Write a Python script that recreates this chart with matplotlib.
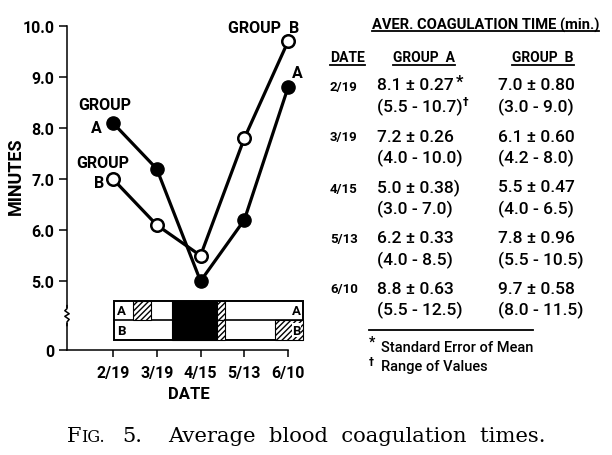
import matplotlib
matplotlib.use('Agg')
import matplotlib.pyplot as plt
from matplotlib.patches import Rectangle

# ---------------- data ----------------
dates = ['2/19', '3/19', '4/15', '5/13', '6/10']
group_a = [8.1, 7.2, 5.0, 6.2, 8.8]
group_b = [7.0, 6.1, 5.5, 7.8, 9.7]
ytick_vals = [5.0, 6.0, 7.0, 8.0, 9.0, 10.0]
ytick_labels = ['5.0', '6.0', '7.0', '8.0', '9.0', '10.0']

se_a = ['0.27', '0.26', '0.38)', '0.33', '0.63']
se_b = ['0.80', '0.60', '0.47', '0.96', '0.58']
range_a = ['5.5 - 10.7', '4.0 - 10.0', '3.0 - 7.0', '4.0 - 8.5', '5.5 - 12.5']
range_b = ['3.0 - 9.0', '4.2 - 8.0', '4.0 - 6.5', '5.5 - 10.5', '8.0 - 11.5']

# treatment schedule bars (row, start, end, kind) in date-position units
schedule_rows = ['A', 'B']
schedule = [('A', 0.46, 0.87, 'hatch'), ('A', 1.35, 2.38, 'solid'), ('A', 2.38, 2.56, 'hatch'),
            ('B', 1.35, 2.38, 'solid'), ('B', 2.38, 2.56, 'hatch'), ('B', 3.70, 4.34, 'hatch')]
schedule_span = (0.02, 4.34)

# ---------------- figure ----------------
W, H = 612, 456
fig = plt.figure(figsize=(W / 100, H / 100), dpi=100)
plt.rcParams['hatch.linewidth'] = 1.0
FONT = 'Roboto'

def fx(px):
    return px / W

def fy(py):
    return 1 - py / H

Y0 = 3.65  # position of broken-axis zero
ax = fig.add_axes([fx(67), fy(351), (310 - 67) / W, (351 - 11.7) / H])
ax.set_xlim(-1.05, 4.5)
ax.set_ylim(Y0, 10.3)
x = list(range(len(dates)))

for s in ['top', 'right']:
    ax.spines[s].set_visible(False)
for s in ['left', 'bottom']:
    ax.spines[s].set_linewidth(1.1)
ax.spines['left'].set_bounds(Y0, 10.0)
ax.spines['bottom'].set_bounds(-1.05, 4)

ax.set_xticks(x)
ax.set_xticklabels(dates, fontfamily=FONT, fontweight='bold', fontsize=11.5)
ax.set_yticks([Y0] + ytick_vals)
ax.set_yticklabels(['0'] + ytick_labels, fontfamily=FONT, fontweight='bold', fontsize=11.5)
ax.tick_params(axis='y', direction='out', length=6, width=1.1, pad=3, color='black')
ax.tick_params(axis='x', direction='out', length=5, width=1.1, pad=6, color='black')

ax.set_xlabel('DATE', fontfamily=FONT, fontweight='bold', fontsize=12, labelpad=4)
fig.text(fx(16), fy(176), 'MINUTES', rotation=90, fontfamily=FONT, fontweight='bold',
         fontsize=13, ha='center', va='center')

# axis break
ax.add_patch(Rectangle((-1.1, 4.17), 0.1, 0.31, transform=ax.transData, facecolor='white',
                       edgecolor='none', clip_on=False, zorder=3))
zx = [-1.05, -1.05, -1.0, -1.1, -1.0, -1.1, -1.05, -1.05]
zy = [4.13, 4.2, 4.25, 4.31, 4.36, 4.42, 4.46, 4.52]
ax.plot(zx, zy, color='black', lw=1.1, clip_on=False, zorder=4)

# lines
ax.plot(x, group_a, '-o', color='black', lw=2.3, ms=9.5, mfc='black', mec='black', zorder=5)
ax.plot(x, group_b, '-o', color='black', lw=2.3, ms=9, mfc='white', mec='black', mew=1.8, zorder=6)

tk = dict(fontfamily=FONT, fontweight='bold', fontsize=11.5, ha='center', va='center')
ax.text(-0.18, 8.47, 'GROUP', **tk)
ax.text(-0.37, 8.02, 'A', **tk)
ax.text(-0.24, 7.33, 'GROUP', **tk)
ax.text(-0.32, 6.94, 'B', **tk)
ax.text(3.43, 9.98, 'GROUP  B', **tk)
ax.text(4.2, 9.08, 'A', **tk)

# schedule inset
row_y = {'A': (4.235, 4.61), 'B': (3.84, 4.235)}
ax.add_patch(Rectangle((schedule_span[0], 3.84), schedule_span[1] - schedule_span[0], 4.61 - 3.84,
                       facecolor='white', edgecolor='black', lw=1.4, zorder=2))
ax.plot(schedule_span, [4.235, 4.235], color='black', lw=1.2, zorder=2)
for row, s0, s1, kind in schedule:
    y0, y1 = row_y[row]
    if kind == 'solid':
        ax.add_patch(Rectangle((s0, y0), s1 - s0, y1 - y0, facecolor='black', edgecolor='black',
                               lw=0.8, zorder=3))
    else:
        ax.add_patch(Rectangle((s0, y0), s1 - s0, y1 - y0, facecolor='white', edgecolor='black',
                               hatch='//////', lw=0.8, zorder=3))
sk = dict(fontfamily=FONT, fontweight='bold', fontsize=9.5, va='center', zorder=4)
for row in schedule_rows:
    ym = sum(row_y[row]) / 2
    ax.text(0.1, ym, row, ha='left', **sk)
    ax.text(4.29, ym, row, ha='right', bbox=dict(facecolor='white', edgecolor='none', pad=0.3), **sk)

# ---------------- table ----------------
fig.canvas.draw()
renderer = fig.canvas.get_renderer()

def underline(t, py, lw=1.3):
    bb = t.get_window_extent(renderer)
    fig.add_artist(plt.Line2D([bb.x0 / W, bb.x1 / W], [fy(py), fy(py)], color='black', lw=lw))

t = fig.text(fx(372), fy(25), 'AVER. COAGULATION TIME (min.)', fontfamily=FONT, fontweight='bold',
             fontsize=10.6, ha='left', va='center')
underline(t, 32)
t = fig.text(fx(330), fy(58), 'DATE', fontfamily=FONT, fontweight='bold', fontsize=10,
             ha='left', va='center')
underline(t, 66)
t = fig.text(fx(424), fy(58), 'GROUP  A', fontfamily=FONT, fontweight='bold', fontsize=10,
             ha='center', va='center')
underline(t, 66)
t = fig.text(fx(543), fy(58), 'GROUP  B', fontfamily=FONT, fontweight='bold', fontsize=10,
             ha='center', va='center')
underline(t, 66)

row1_y = [86, 137, 188, 239, 289]
vk = dict(fontfamily=FONT, fontweight='medium', fontsize=12.5, ha='left', va='center')
for i, d in enumerate(dates):
    y1 = row1_y[i]
    y2 = y1 + 21
    fig.text(fx(330), fy(y1 + 1), d, fontfamily=FONT, fontweight='bold', fontsize=9.5,
             ha='left', va='center')
    ta = fig.text(fx(377), fy(y1), f'{group_a[i]:.1f} ± {se_a[i]}', **vk)
    tb = fig.text(fx(377), fy(y2), f'({range_a[i]})', **vk)
    fig.text(fx(498), fy(y1), f'{group_b[i]:.1f} ± {se_b[i]}', **vk)
    fig.text(fx(498), fy(y2), f'({range_b[i]})', **vk)
    if i == 0:
        bb = ta.get_window_extent(renderer)
        fig.text(bb.x1 / W + 0.004, fy(y1 - 4), '*', fontfamily=FONT, fontweight='bold',
                 fontsize=12, ha='left', va='center')
        bb = tb.get_window_extent(renderer)
        fig.text(bb.x1 / W + 0.001, fy(y2 - 5), '†', fontfamily='DejaVu Sans', fontweight='bold',
                 fontsize=8, ha='left', va='center')

fig.add_artist(plt.Line2D([fx(369), fx(533)], [fy(331), fy(331)], color='black', lw=1.3))
fig.text(fx(369), fy(343), '*', fontfamily=FONT, fontweight='bold', fontsize=10, ha='left', va='center')
fig.text(fx(381), fy(348), 'Standard Error of Mean', fontfamily=FONT, fontweight='medium',
         fontsize=10.5, ha='left', va='center')
fig.text(fx(369), fy(362), '†', fontfamily='DejaVu Sans', fontweight='bold', fontsize=7,
         ha='left', va='center')
fig.text(fx(381), fy(367), 'Range of Values', fontfamily=FONT, fontweight='medium',
         fontsize=10.5, ha='left', va='center')

# ---------------- caption ----------------
base_y = fy(442)
SERIF = 'DejaVu Serif'
c1 = fig.text(fx(67), base_y, 'F', fontfamily=SERIF, fontsize=15, ha='left', va='baseline')
bb = c1.get_window_extent(renderer)
c2 = fig.text(bb.x1 / W, base_y, 'IG.', fontfamily=SERIF, fontsize=11.5, ha='left', va='baseline')
bb = c2.get_window_extent(renderer)
c3 = fig.text(bb.x1 / W + fx(17), base_y, '5.', fontfamily=SERIF, fontsize=15, ha='left',
              va='baseline')
fig.text(fx(168), base_y, 'Average  blood  coagulation  times.', fontfamily=SERIF,
         fontsize=15.2, ha='left', va='baseline')

fig.savefig('out.png', dpi=100)
